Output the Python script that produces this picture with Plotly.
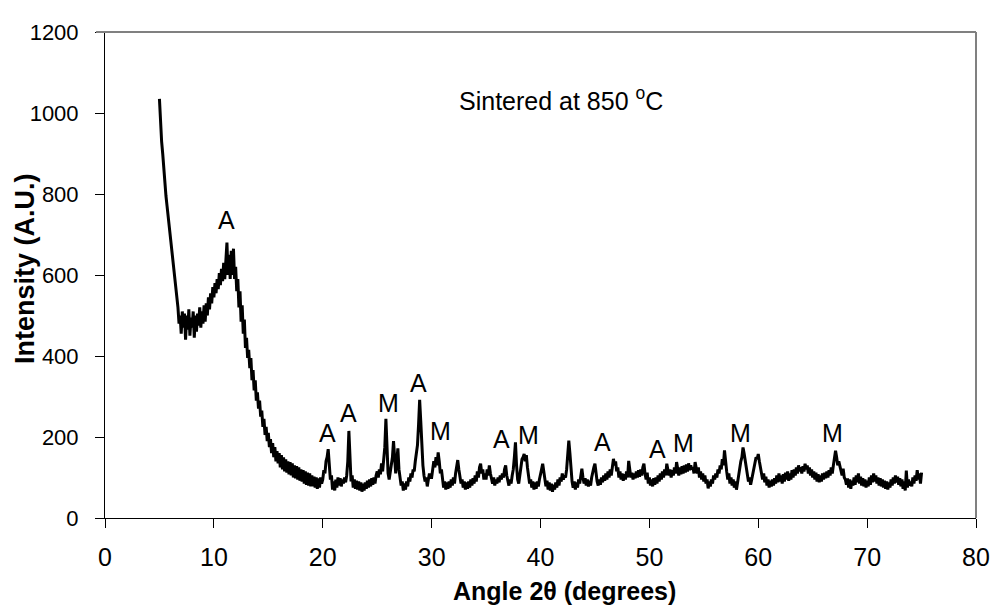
import numpy as np
import plotly.graph_objects as go

# === DADOS ===
# intensidade a cada 0.1 grau, de 5.0 a 75.0 (uma linha por grau)
intensidade = [
    1035, 960, 930, 900, 860, 830, 795, 770, 745, 715,   # 5
    700, 675, 655, 630, 600, 570, 545, 520, 480, 500,    # 6
    455, 510, 470, 505, 440, 500, 465, 515, 450, 495,    # 7
    470, 510, 445, 500, 460, 505, 475, 520, 470, 510,    # 8
    480, 525, 485, 530, 500, 545, 515, 555, 530, 570,    # 9
    545, 580, 555, 590, 565, 605, 575, 615, 585, 630,    # 10
    590, 640, 680, 600, 650, 590, 660, 600, 665, 590,    # 11
    620, 560, 590, 520, 560, 485, 525, 455, 490, 420,    # 12
    445, 395, 415, 370, 395, 340, 365, 315, 340, 290,    # 13
    310, 270, 290, 250, 265, 225, 245, 205, 225, 190,    # 14
    210, 175, 195, 160, 185, 150, 175, 140, 165, 135,    # 15
    160, 125, 155, 120, 150, 115, 145, 112, 140, 108,    # 16
    138, 105, 135, 100, 130, 98, 128, 95, 125, 92,       # 17
    120, 90, 118, 85, 115, 82, 112, 80, 110, 78,         # 18
    105, 78, 102, 75, 100, 72, 98, 75, 100, 85,          # 19
    95, 118, 110, 140, 150, 170, 125, 95, 105, 70,       # 20
    90, 68, 95, 75, 100, 80, 98, 78, 95, 85,             # 21
    100, 88, 105, 140, 215, 130, 90, 105, 75, 95,        # 22
    72, 92, 70, 90, 68, 88, 65, 85, 68, 88,              # 23
    72, 92, 75, 95, 78, 98, 82, 100, 85, 105,            # 24
    115, 100, 120, 108, 135, 115, 150, 175, 245, 160,    # 25
    110, 95, 115, 125, 150, 190, 130, 110, 140, 172,     # 26
    120, 95, 80, 90, 68, 85, 70, 90, 78, 100,            # 27
    90, 110, 100, 120, 115, 140, 160, 180, 230, 292,     # 28
    240, 170, 130, 105, 90, 100, 78, 95, 110, 100,       # 29
    100, 120, 140, 125, 150, 130, 162, 140, 110, 120,    # 30
    95, 75, 90, 70, 88, 72, 90, 75, 95, 80,              # 31
    100, 85, 110, 130, 143, 120, 100, 85, 95, 75,        # 32
    90, 70, 88, 72, 90, 75, 95, 80, 98, 85,              # 33
    105, 90, 115, 100, 125, 134, 110, 120, 95, 110,      # 34
    95, 120, 105, 130, 110, 100, 85, 100, 80, 95,        # 35
    85, 100, 88, 105, 95, 110, 100, 120, 130, 105,       # 36
    90, 80, 95, 85, 105, 120, 150, 187, 130, 95,         # 37
    85, 110, 125, 145, 150, 158, 140, 155, 125, 100,     # 38
    85, 95, 75, 90, 70, 88, 72, 90, 78, 95,              # 39
    105, 120, 134, 110, 90, 78, 92, 70, 88, 68,          # 40
    85, 65, 82, 70, 88, 75, 95, 80, 100, 90,             # 41
    110, 95, 105, 100, 120, 150, 191, 160, 115, 90,      # 42
    75, 90, 70, 88, 75, 95, 85, 110, 122, 100,           # 43
    85, 98, 80, 95, 78, 92, 80, 100, 115, 125,           # 44
    134, 110, 90, 80, 95, 82, 100, 88, 105, 92,          # 45
    110, 95, 115, 100, 120, 105, 125, 146, 130, 140,     # 46
    115, 125, 100, 115, 95, 110, 92, 108, 95, 115,       # 47
    100, 141, 120, 100, 112, 95, 110, 98, 115, 100,      # 48
    118, 102, 120, 105, 125, 134, 110, 95, 112, 85,      # 49
    100, 80, 95, 78, 98, 82, 100, 85, 105, 90,           # 50
    110, 95, 115, 100, 120, 105, 134, 115, 105, 120,     # 51
    100, 118, 105, 125, 110, 138, 115, 105, 125, 108,    # 52
    128, 110, 130, 112, 132, 115, 135, 118, 130, 120,    # 53
    125, 110, 138, 120, 110, 125, 100, 115, 95, 110,     # 54
    90, 105, 85, 95, 73, 90, 78, 95, 85, 105,            # 55
    95, 110, 100, 120, 110, 130, 120, 145, 130, 167,     # 56
    135, 115, 95, 110, 85, 100, 80, 95, 75, 90,          # 57
    70, 90, 105, 120, 140, 150, 174, 160, 140, 120,      # 58
    105, 90, 100, 82, 95, 110, 125, 140, 150, 145,       # 59
    158, 140, 125, 110, 95, 110, 88, 102, 80, 95,        # 60
    75, 92, 78, 95, 80, 98, 85, 105, 88, 110,            # 61
    90, 105, 85, 108, 90, 112, 95, 115, 92, 110,         # 62
    95, 118, 100, 120, 105, 125, 110, 130, 115, 125,     # 63
    110, 128, 115, 134, 120, 130, 110, 125, 105, 120,    # 64
    100, 115, 95, 112, 90, 108, 88, 105, 90, 110,        # 65
    95, 112, 98, 115, 100, 118, 105, 125, 110, 130,      # 66
    145, 166, 150, 130, 140, 125, 118, 105, 122, 100,    # 67
    95, 82, 98, 75, 95, 72, 92, 80, 100, 82,             # 68
    105, 88, 110, 85, 102, 80, 98, 78, 95, 75,           # 69
    92, 78, 100, 82, 105, 88, 110, 90, 105, 85,          # 70
    100, 80, 98, 78, 95, 75, 92, 72, 90, 70,             # 71
    88, 75, 95, 80, 100, 85, 105, 88, 102, 82,           # 72
    98, 78, 95, 72, 90, 68, 117, 75, 95, 80,             # 73
    90, 78, 100, 85, 105, 92, 118, 95, 110, 85,          # 74
    112,                                                 # 75
]
angulo = np.round(np.arange(len(intensidade)) * 0.1 + 5.0, 1)

# rótulos dos picos (A / M)
picos_texto = ["A", "A", "A", "M", "A", "M", "A", "M", "A", "A", "M", "M", "M"]
picos_x = [11.2, 20.4, 22.4, 26.0, 28.8, 30.8, 36.4, 38.9, 45.7, 50.7, 53.1, 58.4, 66.8]
picos_y = [737, 210, 259, 285, 334, 215, 195, 205, 188, 171, 185, 210, 210]

fonte = "Liberation Sans, Arial, sans-serif"

fig = go.Figure()
fig.add_trace(go.Scatter(
    x=angulo, y=intensidade, mode="lines",
    line=dict(color="black", width=3),
    showlegend=False
))

for t, px, py in zip(picos_texto, picos_x, picos_y):
    fig.add_annotation(x=px, y=py, text=t, showarrow=False,
                       font=dict(family=fonte, size=25, color="black"))

fig.add_annotation(x=41.9, y=1035, text="Sintered at 850 <sup>o</sup>C", showarrow=False,
                   font=dict(family=fonte, size=25, color="black"))

# títulos dos eixos como anotações (posição livre)
fig.add_annotation(xref="paper", yref="paper", x=0.527, y=-0.150, text="<b>Angle 2θ (degrees)</b>",
                   showarrow=False, yanchor="middle",
                   font=dict(family=fonte, size=25, color="black"))
fig.add_annotation(xref="paper", yref="paper", x=-0.092, y=0.514, text="<b>Intensity (A.U.)</b>",
                   showarrow=False, textangle=-90, xanchor="center",
                   font=dict(family=fonte, size=27, color="black"))

# moldura cinza (topo e direita)
fig.add_shape(type="line", xref="paper", yref="paper", x0=-0.0103, x1=1, y0=1, y1=1,
              line=dict(color="#808080", width=2))
fig.add_shape(type="line", xref="paper", yref="paper", x0=1, x1=1, y0=0, y1=1,
              line=dict(color="#808080", width=2))

# a página tem 8 px de margem no body: compensado nas margens
fig.update_layout(
    width=994, height=604,
    margin=dict(l=97, r=19, t=18, b=94),
    paper_bgcolor="white", plot_bgcolor="white",
    font=dict(family=fonte, color="black"),
    xaxis=dict(range=[0, 80], tick0=0, dtick=10, ticks="outside", ticklen=9,
               tickcolor="black", showline=True, linecolor="black", linewidth=1,
               showgrid=False, zeroline=False, tickfont=dict(size=25),
               ticklabelstandoff=8),
    yaxis=dict(range=[0, 1200], tick0=0, dtick=200, ticks="outside", ticklen=9,
               tickcolor="black", showline=True, linecolor="black", linewidth=1,
               showgrid=False, zeroline=False, tickfont=dict(size=22),
               ticklabelstandoff=12),
)

fig.write_html("out.html")
